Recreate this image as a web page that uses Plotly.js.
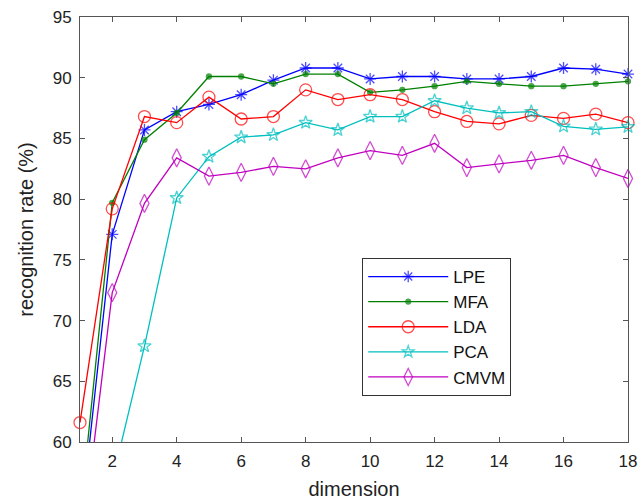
<!DOCTYPE html>
<html><head><meta charset="utf-8">
<script src="https://cdn.plot.ly/plotly-3.0.1.min.js"></script>
<style>body{margin:0;background:#fff}#chart{width:644px;height:500px}</style>
</head><body><div id="chart"></div>
<script>
const dims = [1,2,3,4,5,6,7,8,9,10,11,12,13,14,15,16,17,18];
const seriesNames = ['LPE','MFA','LDA','PCA','CMVM'];
const lpe  = [52.7,77.1,85.7,87.2,87.8,88.6,89.8,90.8,90.8,89.9,90.1,90.1,89.9,89.9,90.1,90.8,90.7,90.3];
const mfa  = [53.8,79.7,84.9,87.1,90.1,90.1,89.5,90.3,90.3,88.8,89.0,89.3,89.7,89.5,89.3,89.3,89.5,89.7];
const lda  = [61.6,79.2,86.8,86.3,88.4,86.6,86.8,89.0,88.2,88.6,88.2,87.2,86.4,86.2,86.9,86.65,87.0,86.3];
const pca  = [45.0,56.8,67.9,80.1,83.5,85.1,85.3,86.3,85.7,86.8,86.8,88.1,87.5,87.1,87.2,86.0,85.75,85.95];
const cmvm = [50.3,72.3,79.65,83.4,81.9,82.2,82.7,82.5,83.4,84.0,83.6,84.6,82.6,82.9,83.2,83.6,82.6,81.7];
const yTicks = [60,65,70,75,80,85,90,95];
const xTicks = [2,4,6,8,10,12,14,16,18];

const yMin = 60, yMax = 95;
const values = [lpe, mfa, lda, pca, cmvm];
const colors = ['#0000ff','#008000','#ff0000','#00bfbf','#bf00bf'];
const symbols = ['asterisk-open','circle','circle-open','star-open','diamond-tall-open'];
const sizes = [10,5,12,10,13];
const FONT = 'Liberation Sans, Arial, sans-serif';

const traces = values.map((v,i)=>({
  x: dims, y: v, name: seriesNames[i], type:'scatter', mode:'lines+markers',
  line:{color:colors[i], width:1.3},
  marker:{symbol:symbols[i], color:colors[i], size: v.map(val => val < yMin ? 0 : sizes[i]),
          line:{color:colors[i], width:1.3}},
  cliponaxis:false
}));

const axisCommon = {showline:true, linecolor:'#555', linewidth:1, mirror:'ticks',
  ticks:'inside', ticklen:5, tickcolor:'#555', showgrid:false, zeroline:false,
  tickfont:{family:FONT, size:17, color:'#222'}};

const layout = {
  width:644, height:500, paper_bgcolor:'#fff', plot_bgcolor:'#fff',
  margin:{l:80, r:16, t:17, b:58},
  showlegend:true,
  xaxis: Object.assign({}, axisCommon, {range:[1,18], tickvals:xTicks, ticklabelstandoff:4,
    title:{text:'dimension', font:{family:FONT, size:20, color:'#222'}, standoff:11}}),
  yaxis: Object.assign({}, axisCommon, {range:[yMin,yMax], tickvals:yTicks, ticklabelstandoff:4,
    title:{text:'recognition rate (%)', font:{family:FONT, size:20, color:'#222'}, standoff:13}}),
  legend:{x:0.515, y:0.433, xanchor:'left', yanchor:'top', bgcolor:'#fff',
    bordercolor:'#333', borderwidth:1,
    font:{family:FONT, size:17, color:'#111'},
    tracegroupgap:0, itemwidth:80}
};
Plotly.newPlot('chart', traces, layout, {displayModeBar:false, staticPlot:true});
</script></body></html>
